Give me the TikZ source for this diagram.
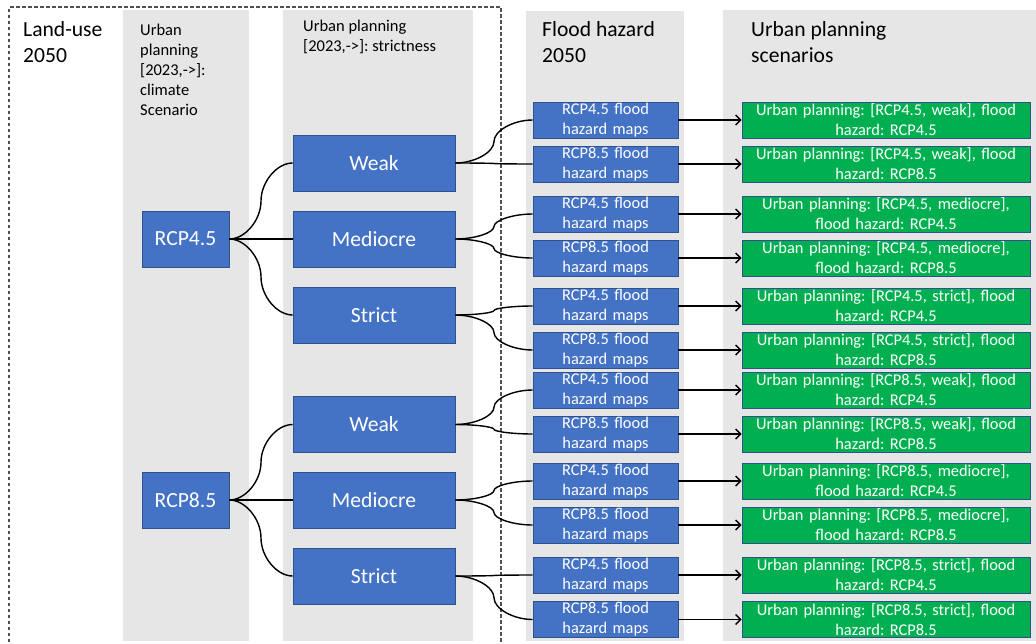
\documentclass[tikz,border=0pt]{standalone}
\usepackage{fontspec}
\setmainfont{Carlito}
\usetikzlibrary{calc,arrows.meta}
\definecolor{colbg}{RGB}{231,230,230}
\definecolor{bluefill}{RGB}{68,114,196}
\definecolor{blueline}{RGB}{47,82,143}
\definecolor{greenfill}{RGB}{0,176,80}
\definecolor{dashcol}{RGB}{80,80,80}
\begin{document}
\frenchspacing
\begin{tikzpicture}[x=1pt,y=-1pt,
  bluebox/.style={draw=blueline, line width=0.8pt, fill=bluefill, text=white, inner sep=0pt, align=center},
  strictbox/.style={bluebox, minimum width=162pt, minimum height=56pt, font=\fontsize{21.6}{25}\selectfont},
  rcpbox/.style={bluebox, minimum width=87pt, minimum height=56pt, font=\fontsize{21.6}{25}\selectfont},
  floodbox/.style={bluebox, minimum height=36pt, text width=145pt, font=\fontsize{16.4}{20}\selectfont},
  scenbox/.style={draw=blueline, line width=0.8pt, fill=greenfill, text=white, inner sep=0pt, align=center, minimum height=36pt, text width=288pt, font=\fontsize{16.4}{20}\selectfont},
  header/.style={anchor=base west, align=left, inner sep=0pt, font=\fontsize{21.6}{26}\selectfont},
  subheader/.style={anchor=base west, align=left, inner sep=0pt, font=\fontsize{16.5}{20}\selectfont},
  conn/.style={line width=1.4pt, black, to path={let \p1=(\tikztostart), \p2=(\tikztotarget) in
     .. controls ({0.75*\x1+0.25*\x2},\y1) and ({0.5*\x1+0.5*\x2},{0.75*\y1+0.25*\y2})
     .. ({0.5*\x1+0.5*\x2},{0.5*\y1+0.5*\y2})
     .. controls ({0.5*\x1+0.5*\x2},{0.25*\y1+0.75*\y2}) and ({0.25*\x1+0.75*\x2},\y2)
     .. (\tikztotarget)}},
  arr/.style={line width=1.4pt, black, -{Straight Barb[length=5pt,width=10pt,line width=1.4pt]}}
]
\useasboundingbox (0,0) rectangle (1036,643);
\clip (0,0) rectangle (1036,643);
\fill[white] (0,0) rectangle (1036,643);
% columns
\fill[colbg] (123,10) rectangle (249,641);
\fill[colbg] (283,10) rectangle (473,641);
\fill[colbg] (526,11) rectangle (684,641);
\fill[colbg] (723,10) rectangle (1036,641);
\draw[dashcol, dash pattern=on 3.5pt off 2.5pt, line width=1.1pt] (9,660) -- (9,7) -- (501,7) -- (501,660);
% headers (anchored at the baseline of the last line)
\node[header] (hland) at (23,62) {Land-use\\2050};
\node[subheader] (hclim) at (140,115.5) {Urban\\planning\\{[}2023,->]:\\climate\\Scenario};
\node[subheader] (hstrict) at (303,51) {Urban planning\\{[}2023,->]: strictness};
\node[header] (hflood) at (542,62) {Flood hazard\\2050};
\node[header] (hscen) at (751,62) {Urban planning\\scenarios};
% climate boxes
\node[rcpbox] (r45) at (185.5,239) {RCP4.5};
\node[rcpbox] (r85) at (185.5,500) {RCP8.5};
% strictness boxes
\node[strictbox] (w1) at (374,163) {Weak};
\node[strictbox] (m1) at (374,239) {Mediocre};
\node[strictbox] (s1) at (374,315) {Strict};
\node[strictbox] (w2) at (374,424.5) {Weak};
\node[strictbox] (m2) at (374,500) {Mediocre};
\node[strictbox] (s2) at (374,576) {Strict};
% flood boxes
\foreach \i/\y in {1/120,3/214,5/306,7/390,9/481,11/575}{
  \node[floodbox] (f\i) at (605.5,\y) {RCP4.5 flood\\hazard maps};
}
\foreach \i/\y in {2/164,4/258,6/350,8/434,10/525,12/619.5}{
  \node[floodbox] (f\i) at (605.5,\y) {RCP8.5 flood\\hazard maps};
}
% scenario boxes
\node[scenbox] (g1) at (886,120) {Urban planning: [RCP4.5, weak], flood\\hazard: RCP4.5};
\node[scenbox] (g2) at (886,164) {Urban planning: [RCP4.5, weak], flood\\hazard: RCP8.5};
\node[scenbox] (g3) at (886,214) {Urban planning: [RCP4.5, mediocre],\\flood hazard: RCP4.5};
\node[scenbox] (g4) at (886,258) {Urban planning: [RCP4.5, mediocre],\\flood hazard: RCP8.5};
\node[scenbox] (g5) at (886,306) {Urban planning: [RCP4.5, strict], flood\\hazard: RCP4.5};
\node[scenbox] (g6) at (886,350) {Urban planning: [RCP4.5, strict], flood\\hazard: RCP8.5};
\node[scenbox] (g7) at (886,390) {Urban planning: [RCP8.5, weak], flood\\hazard: RCP4.5};
\node[scenbox] (g8) at (886,434) {Urban planning: [RCP8.5, weak], flood\\hazard: RCP8.5};
\node[scenbox] (g9) at (886,481) {Urban planning: [RCP8.5, mediocre],\\flood hazard: RCP4.5};
\node[scenbox] (g10) at (886,525) {Urban planning: [RCP8.5, mediocre],\\flood hazard: RCP8.5};
\node[scenbox] (g11) at (886,575) {Urban planning: [RCP8.5, strict], flood\\hazard: RCP4.5};
\node[scenbox] (g12) at (886,619.5) {Urban planning: [RCP8.5, strict], flood\\hazard: RCP8.5};
% connectors
\foreach \a/\b in {r45/w1,r45/m1,r45/s1,r85/w2,r85/m2,r85/s2,
  w1/f1,w1/f2,m1/f3,m1/f4,s1/f5,s1/f6,w2/f7,w2/f8,m2/f9,m2/f10,s2/f11,s2/f12}{
  \draw[conn] (\a.east) to (\b.west);
}
\foreach \i in {1,...,12}{
  \draw[arr] (f\i.east) -- (g\i.west);
}
\end{tikzpicture}
\end{document}
